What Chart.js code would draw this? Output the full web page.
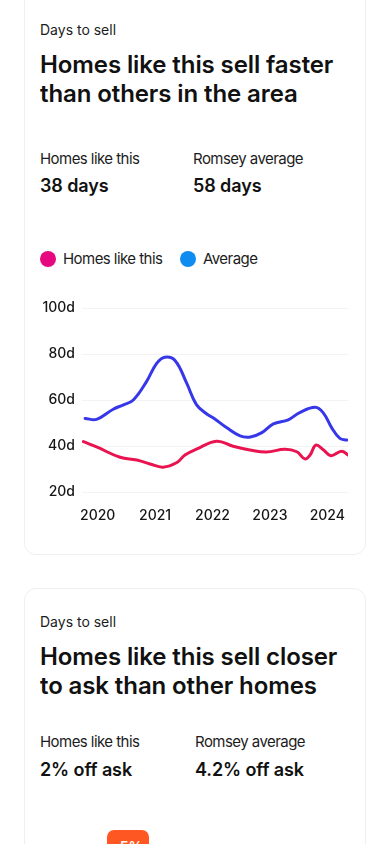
<!DOCTYPE html>
<html>
<head>
<meta charset="utf-8">
<script src="https://cdn.jsdelivr.net/npm/chart.js@4.4.1/dist/chart.umd.min.js"></script>
<style>
  html, body { margin: 0; padding: 0; background: #ffffff; width: 390px; height: 844px; overflow: hidden; }
  body { font-family: Inter, "Noto Sans", sans-serif; color: #151515; position: relative; }
  .card { position: absolute; left: 24px; width: 340px; border: 1px solid #efefef; border-radius: 12px; background: #fff; }
  .t { position: absolute; white-space: nowrap; }
  .eyebrow { font-size: 14px; line-height: 20px; font-weight: 400; color: #1c1c1c; }
  .title { font-size: 24px; line-height: 29px; font-weight: 600; color: #111; letter-spacing: -0.1px; }
  .label { font-size: 15px; line-height: 20px; font-weight: 400; color: #1c1c1c; letter-spacing: -0.55px; }
  .value { font-size: 18px; line-height: 24px; font-weight: 600; color: #111; letter-spacing: -0.1px; }
  .dot { position: absolute; width: 16px; height: 16px; border-radius: 50%; }
  #chartWrap { position: absolute; left: 24px; top: 290px; width: 341px; height: 245px; }
  .badge { position: absolute; left: 107px; top: 830px; width: 42px; height: 26px; border-radius: 7px; background: #ff5722; color: #fff; font-size: 14px; font-weight: 600; text-align: center; line-height: 26px; padding-top: 4px; box-sizing: border-box; }
</style>
</head>
<body>
<div class="card" style="top:-12px; height:565px;"></div>
<div class="card" style="top:588px; height:300px;"></div>

<div class="t eyebrow" style="left:40px; top:19.6px;">Days to sell</div>
<div class="t title" style="left:40px; top:49.5px;">Homes like this sell faster<br>than others in the area</div>
<div class="t label" style="left:40px; top:148.5px;">Homes like this</div>
<div class="t label" style="left:193px; top:148.5px;">Romsey average</div>
<div class="t value" style="left:40px; top:174.2px;">38 days</div>
<div class="t value" style="left:193px; top:174.2px;">58 days</div>

<div class="dot" style="left:39.5px; top:251px; background:#e5087e;"></div>
<div class="t label" style="left:63px; top:248.5px;">Homes like this</div>
<div class="dot" style="left:179.5px; top:251px; background:#0f8cf0;"></div>
<div class="t label" style="left:203px; top:248.5px;">Average</div>

<div id="chartWrap"><canvas id="c" width="341" height="245"></canvas></div>

<div class="t eyebrow" style="left:40px; top:611.6px;">Days to sell</div>
<div class="t title" style="left:40px; top:641.8px;">Homes like this sell closer<br>to ask than other homes</div>
<div class="t label" style="left:40px; top:731.8px;">Homes like this</div>
<div class="t label" style="left:195px; top:731.8px;">Romsey average</div>
<div class="t value" style="left:40px; top:757.5px;">2% off ask</div>
<div class="t value" style="left:195px; top:757.5px;">4.2% off ask</div>
<div class="badge">-5%</div>

<script>
// Data (decimal years / days to sell)
const homesDates = [2019.75, 2019.98, 2020.39, 2020.68, 2020.91, 2021.14, 2021.38, 2021.52, 2021.72, 2022.07, 2022.36, 2022.65, 2022.94, 2023.26, 2023.47, 2023.61, 2023.70, 2023.80, 2023.93, 2024.06, 2024.25, 2024.36];
const homesDays  = [41.9, 39.6, 35.1, 33.9, 32.2, 30.8, 32.8, 36.1, 38.6, 42.1, 39.9, 38.3, 37.4, 38.6, 37.5, 34.4, 36.1, 40.4, 38.4, 35.8, 37.7, 36.1];
const avgDates   = [2019.78, 2019.98, 2020.27, 2020.44, 2020.62, 2020.85, 2021.03, 2021.17, 2021.35, 2021.55, 2021.72, 2021.90, 2022.01, 2022.25, 2022.48, 2022.66, 2022.86, 2023.06, 2023.32, 2023.52, 2023.79, 2023.93, 2024.08, 2024.22, 2024.34];
const avgDays    = [52.0, 51.6, 56.0, 57.8, 60.0, 68.0, 76.0, 78.6, 77.1, 67.3, 58.0, 53.9, 52.3, 47.9, 44.4, 43.9, 45.8, 49.6, 51.4, 54.5, 56.8, 54.4, 47.8, 43.3, 42.6];
const xTickYears = [2020, 2021, 2022, 2023, 2024];
const yTickDays  = [20, 40, 60, 80, 100];

const toPoints = (xs, ys) => xs.map((x, i) => ({ x: x, y: ys[i] }));

new Chart(document.getElementById('c'), {
  type: 'line',
  data: {
    datasets: [
      { label: 'Homes like this', data: toPoints(homesDates, homesDays), borderColor: '#e8134f', borderWidth: 3, pointRadius: 0, tension: 0.4, fill: false, borderCapStyle: 'round', borderJoinStyle: 'round' },
      { label: 'Average', data: toPoints(avgDates, avgDays), borderColor: '#3737ea', borderWidth: 3, pointRadius: 0, tension: 0.4, fill: false, borderCapStyle: 'round', borderJoinStyle: 'round' }
    ]
  },
  options: {
    responsive: false,
    animation: false,
    devicePixelRatio: 1,
    layout: { padding: { left: 0, right: 17, top: 18, bottom: 0 } },
    plugins: { legend: { display: false }, tooltip: { enabled: false } },
    scales: {
      x: {
        type: 'linear',
        min: 2019.726,
        max: 2024.361,
        grid: { display: false, drawTicks: false },
        border: { display: false },
        afterBuildTicks: s => { s.ticks = xTickYears.map(v => ({ value: v })); },
        afterFit: s => { s.height = 43; },
        ticks: { padding: 15, color: '#151515', font: { family: 'Inter', size: 14, weight: '500' }, callback: v => String(v), maxRotation: 0, autoSkip: false }
      },
      y: {
        min: 20,
        max: 100,
        grid: { color: '#f3f3f3', lineWidth: 1, drawTicks: false },
        border: { display: false },
        afterBuildTicks: s => { s.ticks = yTickDays.map(v => ({ value: v })); },
        afterFit: s => { s.width = 58; },
        ticks: { padding: 7, color: '#151515', font: { family: 'Inter', size: 14, weight: '500' }, callback: v => v + 'd' }
      }
    }
  }
});
</script>
</body>
</html>
